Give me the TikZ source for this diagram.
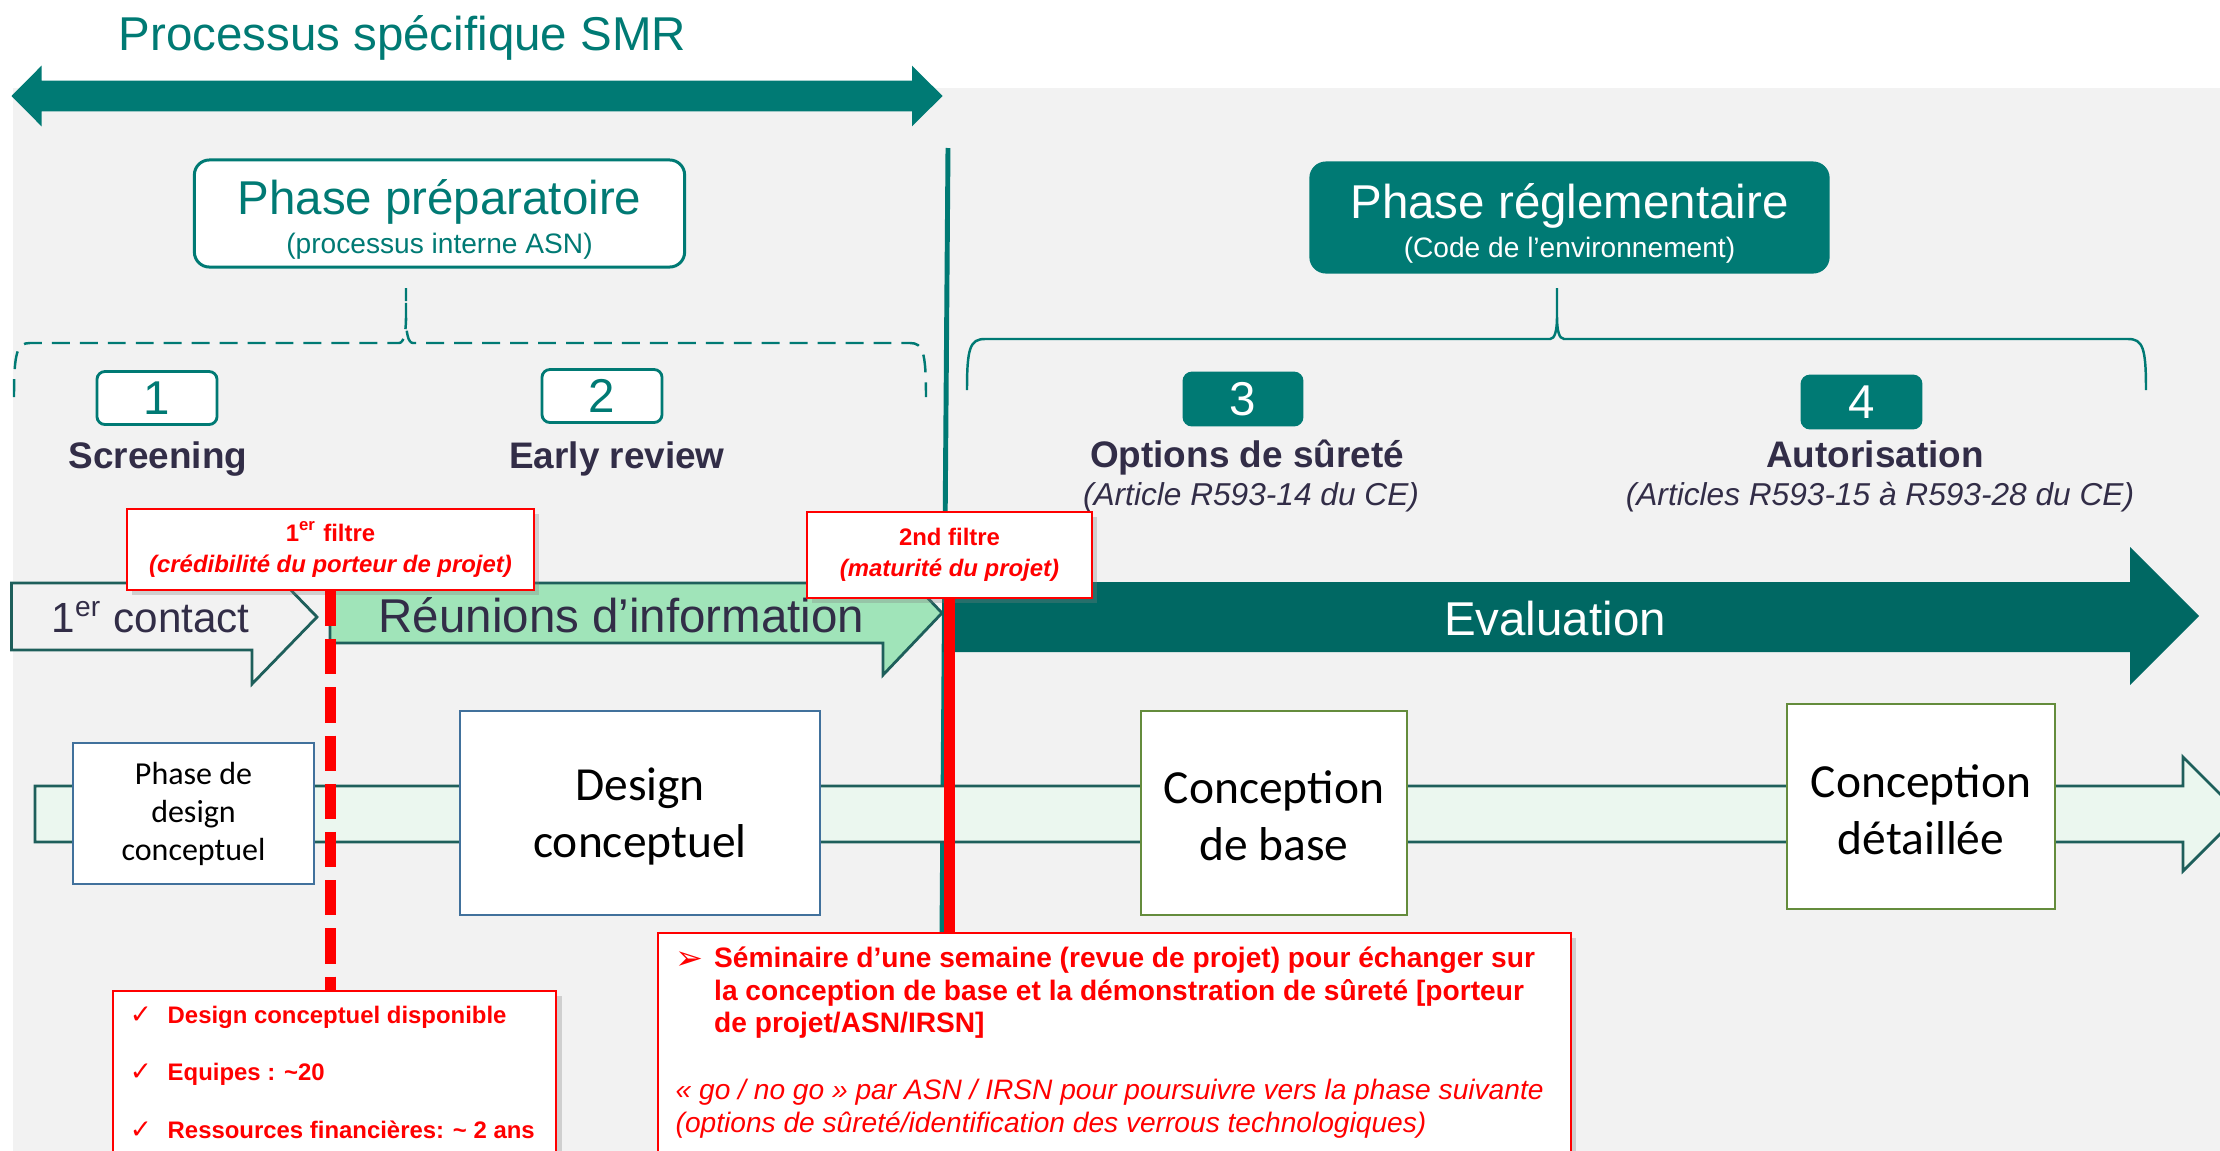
\documentclass[tikz,border=0pt]{standalone}
\usepackage{fontspec}
\setmainfont{Liberation Sans}
\newfontfamily\calibrifont{Carlito}
\newfontfamily\symbfont{DejaVu Sans}
\usetikzlibrary{shadows}

\definecolor{smrteal}{RGB}{0,122,116}
\definecolor{evalteal}{RGB}{0,104,99}
\definecolor{edgeteal}{RGB}{30,95,91}
\definecolor{bggrey}{RGB}{242,242,242}
\definecolor{meetgreen}{RGB}{160,228,185}
\definecolor{bandgreen}{RGB}{235,247,239}
\definecolor{headink}{RGB}{50,45,71}
\definecolor{boxblue}{RGB}{65,113,156}
\definecolor{boxolive}{RGB}{100,140,60}

\tikzset{
  phasebox/.style={rounded corners=0.15cm, line width=0.85pt, draw=smrteal,
    align=center, inner sep=0pt, font=\fontsize{13.5}{11.2}\selectfont},
  numbox/.style={rounded corners=0.08cm, line width=0.8pt, draw=smrteal,
    minimum width=1.2cm, minimum height=0.53cm, inner sep=0pt,
    font=\fontsize{13.5}{16}\selectfont},
  steplabel/.style={anchor=base, text=headink, font=\bfseries\fontsize{10.5}{12}\selectfont},
  artlabel/.style={anchor=base, text=headink, font=\itshape\fontsize{9}{11}\selectfont},
  redbox/.style={draw=red, line width=0.6pt, fill=white, inner sep=0pt,
    drop shadow={shadow xshift=1.5pt, shadow yshift=-1.5pt, opacity=0.3}},
  redtext/.style={text=red, font=\bfseries\fontsize{6.8}{8.8}\selectfont},
  semtext/.style={anchor=base west, inner sep=0pt, text=red, font=\bfseries\fontsize{8}{9.4}\selectfont},
  designbox/.style={draw, line width=0.7pt, fill=white, inner sep=0pt, align=center,
    font=\calibrifont\fontsize{13.5}{16.2}\selectfont},
  flowarrow/.style={line width=0.8pt, draw=edgeteal},
  redline/.style={red, line width=2.85pt},
  redshade/.style={black, opacity=0.2, line width=2.85pt, xshift=1.6pt, yshift=-1pt},
}

\begin{document}
\begin{tikzpicture}[x=0.01cm, y=-0.01cm]
  \useasboundingbox (0,0) rectangle (2220,1151);
  \fill[bggrey] (13,88) rectangle (2220,1151);

  % processus SMR
  \fill[smrteal] (11.5,96) -- (41.5,65.7) -- (41.5,80.7) -- (912,80.7) -- (912,65.7)
    -- (942.6,96) -- (912,126.3) -- (912,111.3) -- (41.5,111.3) -- (41.5,126.3) -- cycle;
  \node[anchor=base west, inner sep=0pt, text=smrteal, font=\fontsize{13.5}{16}\selectfont] (title)
    at (118,50) {Processus spécifique SMR};
  \draw[smrteal, line width=1.4pt] (948,148) -- (942,932);

  % phases
  \node[phasebox, fill=white, text=smrteal, minimum width=4.9cm, minimum height=1.07cm]
    (prep) at (439.5,213.5) {\rule{0pt}{13.2pt}Phase préparatoire\\{\fontsize{8}{9}\selectfont (processus interne ASN)}};
  \node[phasebox, fill=smrteal, text=white, minimum width=5.17cm, minimum height=1.09cm]
    (regl) at (1569.5,217.5) {\rule{0pt}{13.2pt}Phase réglementaire\\{\fontsize{8}{9}\selectfont (Code de l’environnement)}};

  \draw[smrteal, line width=0.7pt, dash pattern=on 5.1pt off 2.85pt]
    (14,397) .. controls (14,352) and (17,343) .. (30,343) -- (399,343)
    .. controls (404,343) and (406,332) .. (406,317) -- (406,288) -- (406,317)
    .. controls (406,332) and (408,343) .. (413,343) -- (910,343)
    .. controls (923,343) and (926,352) .. (926,397);
  \draw[smrteal, line width=0.7pt]
    (967,390) .. controls (967,348) and (970,339) .. (985,339) -- (1550,339)
    .. controls (1555,339) and (1557,330) .. (1557,317) -- (1557,288) -- (1557,317)
    .. controls (1557,330) and (1559,339) .. (1564,339) -- (2128,339)
    .. controls (2143,339) and (2146,348) .. (2146,390);

  \node[numbox, fill=white, text=smrteal] (num1) at (157,398) {1};
  \node[numbox, fill=white, text=smrteal] (num2) at (602,396) {2};
  \node[numbox, fill=smrteal, text=white, minimum width=1.18cm, minimum height=0.52cm] (num3) at (1243,399) {3};
  \node[numbox, fill=smrteal, text=white, minimum width=1.19cm, minimum height=0.52cm] (num4) at (1861.5,402) {4};

  \node[steplabel] (screening) at (158,468) {Screening};
  \node[steplabel] (early) at (617,468) {Early review};
  \node[steplabel] (options) at (1247,467) {Options de sûreté};
  \node[artlabel] (optionsart) at (1251,505) {(Article R593-14 du CE)};
  \node[steplabel] (autor) at (1875,467) {Autorisation};
  \node[artlabel] (autorart) at (1880,505) {(Articles R593-15 à R593-28 du CE)};

  % conception
  \filldraw[fill=bandgreen, flowarrow] (35,786) -- (2183,786) -- (2183,757) -- (2240,814)
    -- (2183,871) -- (2183,842) -- (35,842) -- cycle;
  \node[designbox, draw=boxblue, minimum width=2.41cm, minimum height=1.41cm,
    font=\calibrifont\fontsize{9.1}{10.8}\selectfont] (phasedesign) at (193.5,813.5) {Phase de\\design\\conceptuel};
  \node[designbox, draw=boxblue, minimum width=3.6cm, minimum height=2.04cm] (design) at (640,813) {\rule{0pt}{11pt}Design\\conceptuel};
  \node[designbox, draw=boxolive, minimum width=2.66cm, minimum height=2.04cm] (basedesign) at (1274,813) {\rule{0pt}{11pt}Conception\\de base};
  \node[designbox, draw=boxolive, minimum width=2.68cm, minimum height=2.05cm] (detaildesign) at (1921,806.5) {\rule{0pt}{11pt}Conception\\détaillée};

  % etapes
  \filldraw[fill=bggrey, flowarrow] (11.5,583) -- (252,583) -- (252,550) -- (317,617)
    -- (252,684) -- (252,650) -- (11.5,650) -- cycle;
  \node[anchor=base west, inner sep=0pt, text=headink, font=\fontsize{12}{14}\selectfont] (contact)
    at (51,632) {1\textsuperscript{er} contact};
  \filldraw[fill=meetgreen, flowarrow] (330,583) -- (883,583) -- (883,551) -- (942,613)
    -- (883,675) -- (883,643) -- (330,643) -- cycle;
  \node[anchor=base west, inner sep=0pt, text=headink, font=\fontsize{13.5}{16}\selectfont] (meetings)
    at (378,632) {Réunions d’information};
  \fill[evalteal] (942,582) -- (2130,582) -- (2130,547) -- (2199,616) -- (2130,685)
    -- (2130,652) -- (942,652) -- cycle;
  \node[anchor=base, text=white, font=\fontsize{13.5}{16}\selectfont] (evaluation)
    at (1555,635) {Evaluation};

  % filtres
  \node[redbox, redtext, align=center, minimum width=4.07cm, minimum height=0.81cm]
    (filtre1) at (330.5,549.5) {1\textsuperscript{er} filtre\\\textit{(crédibilité du porteur de projet)}};
  \node[redbox, redtext, align=center, minimum width=2.85cm, minimum height=0.86cm]
    (filtre2) at (949.5,555) {2nd filtre\\\textit{(maturité du projet)}};

  \node[redbox, anchor=north west, minimum width=4.43cm, minimum height=2.1cm] (checklist) at (112,990) {};
  \node[anchor=base, text=red, font=\symbfont\fontsize{7.5}{8}\selectfont] (tick1) at (141,1023) {✓};
  \node[redtext, anchor=base west, inner sep=0pt] (item1) at (167,1023) {Design conceptuel disponible};
  \node[anchor=base, text=red, font=\symbfont\fontsize{7.5}{8}\selectfont] (tick2) at (141,1080) {✓};
  \node[redtext, anchor=base west, inner sep=0pt] (item2) at (167,1080) {Equipes : \textasciitilde20};
  \node[anchor=base, text=red, font=\symbfont\fontsize{7.5}{8}\selectfont] (tick3) at (141,1138) {✓};
  \node[redtext, anchor=base west, inner sep=0pt] (item3) at (167,1138) {Ressources financières: \textasciitilde{} 2 ans};

  \node[redbox, anchor=north west, minimum width=9.12cm, minimum height=2.6cm] (sem) at (657,932) {};
  \node[anchor=base, text=red, font=\symbfont\fontsize{9.5}{10}\selectfont] (bullet) at (689,969) {➢};
  \node[semtext] (semA) at (713.5,967) {Séminaire d’une semaine (revue de projet) pour échanger sur};
  \node[semtext] (semB) at (713.5,1000) {la conception de base et la démonstration de sûreté [porteur};
  \node[semtext] (semC) at (713.5,1032) {de projet/ASN/IRSN]};
  \node[semtext, font=\itshape\fontsize{8}{9.4}\selectfont] (semD) at (675,1099) {« go / no go » par ASN / IRSN pour poursuivre vers la phase suivante};
  \node[semtext, font=\itshape\fontsize{8}{9.4}\selectfont] (semE) at (675,1132) {(options de sûreté/identification des verrous technologiques)};

  \draw[redshade, dash pattern=on 10pt off 3.7pt] (filtre1.south) -- (filtre1.south |- checklist.north);
  \draw[redline, dash pattern=on 10pt off 3.7pt] (filtre1.south) -- (filtre1.south |- checklist.north);
  \draw[redshade] (filtre2.south) -- (filtre2.south |- sem.north);
  \draw[redline] (filtre2.south) -- (filtre2.south |- sem.north);
\end{tikzpicture}
\end{document}
